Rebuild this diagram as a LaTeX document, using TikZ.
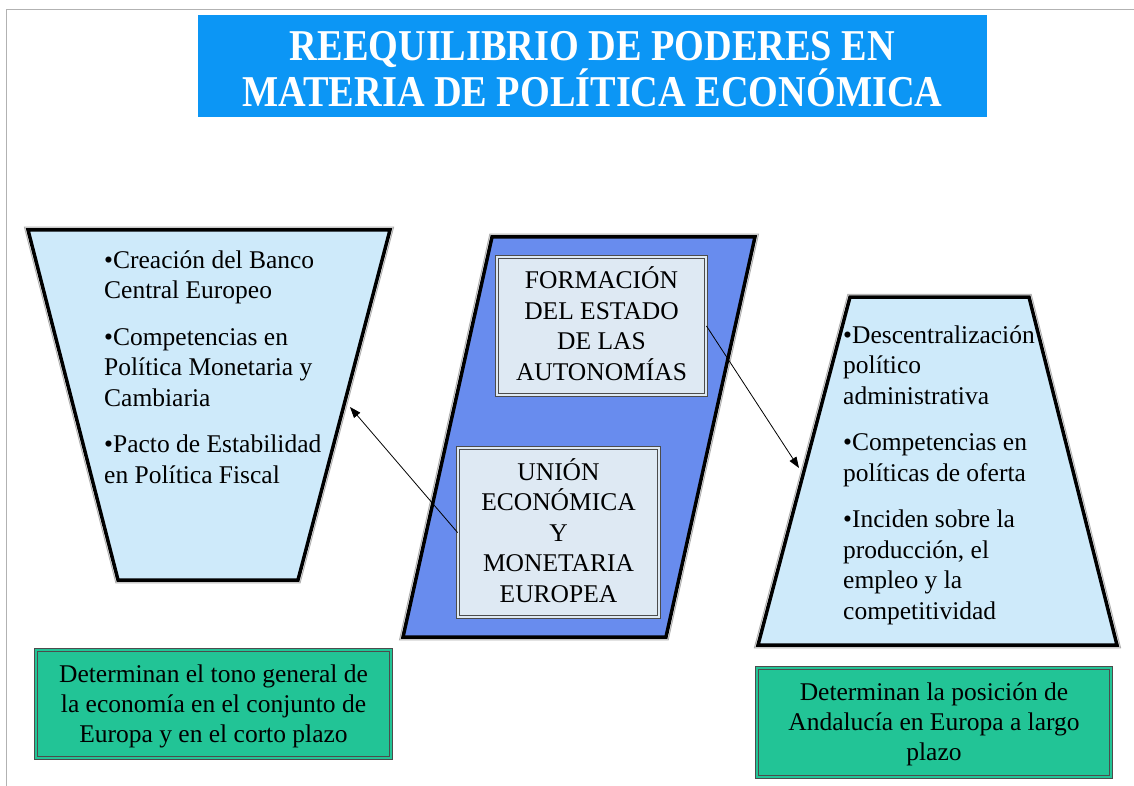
\documentclass[tikz,border=0pt]{standalone}
\usepackage{fontspec}
\usepackage{graphicx}
\setmainfont{Liberation Serif}
\usetikzlibrary{arrows.meta}

\definecolor{titleblue}{RGB}{12,150,245}
\definecolor{trapfill}{RGB}{206,234,250}
\definecolor{paralblue}{RGB}{104,140,238}
\definecolor{boxfill}{RGB}{222,233,243}
\definecolor{notegreen}{RGB}{34,196,150}

\newcommand{\tstrut}{\rule{0pt}{22pt}}
\newcommand{\bstrut}{\rule[-5pt]{0pt}{5pt}}
\newcommand{\narrow}[1]{\scalebox{0.87}[1]{#1}}

\begin{document}
\begin{tikzpicture}[
  x=1pt, y=-1pt,
  font=\fontsize{25.5}{30.5}\selectfont,
  >={Triangle[length=11pt,width=8pt]},
  halo/.style={draw=gray!65, double=white, line width=1pt, double distance=4.5pt},
  rim/.style={draw=black, line width=3.5pt, line join=miter},
  framebox/.style={draw=gray!60!black, line width=0.9pt, double distance=2.2pt,
                   inner sep=0pt, align=center},
  listtext/.style={inner sep=0pt, align=left, anchor=north west},
]
\useasboundingbox (0,0) rectangle (1134,786);

% --- Page frame ---
\draw[gray!60, line width=1pt] (6,786) -- (6,9.5) -- (1134,9.5);

% --- Title ---
\node[fill=titleblue, minimum width=789pt, minimum height=102pt, inner sep=0pt,
      text=white, align=center,
      font=\bfseries\fontsize{44}{44}\selectfont] (title) at (592.5,66)
  {\rule{0pt}{36pt}\narrow{REEQUILIBRIO DE PODERES EN}\\
   \narrow{MATERIA DE POLÍTICA ECONÓMICA}};

% --- Corners of the three large shapes ---
\coordinate (lt-nw) at (28,230);   \coordinate (lt-ne) at (390,230);
\coordinate (lt-se) at (298,580);  \coordinate (lt-sw) at (118,580);
\coordinate (pa-nw) at (492,237);  \coordinate (pa-ne) at (755,237);
\coordinate (pa-se) at (666,637);  \coordinate (pa-sw) at (403,637);
\coordinate (rt-nw) at (850,297);  \coordinate (rt-ne) at (1029,297);
\coordinate (rt-se) at (1117,645); \coordinate (rt-sw) at (758,645);

% --- Left trapezoid (European level) ---
\draw[halo] (lt-nw) -- (lt-ne) -- (lt-se) -- (lt-sw) -- cycle;
\filldraw[rim, fill=trapfill] (lt-nw) -- (lt-ne) -- (lt-se) -- (lt-sw) -- cycle;

% --- Central parallelogram ---
\draw[halo] (pa-nw) -- (pa-ne) -- (pa-se) -- (pa-sw) -- cycle;
\filldraw[rim, fill=paralblue] (pa-nw) -- (pa-ne) -- (pa-se) -- (pa-sw) -- cycle;

% --- Right trapezoid (regional level) ---
\draw[halo] (rt-nw) -- (rt-ne) -- (rt-se) -- (rt-sw) -- cycle;
\filldraw[rim, fill=trapfill] (rt-nw) -- (rt-ne) -- (rt-se) -- (rt-sw) -- cycle;

% --- Lists ---
\node[listtext] (ue-list) at (104,246)
  {\tstrut•Creación del Banco\\Central Europeo\\[16pt]
   •Competencias en\\Política Monetaria y\\Cambiaria\\[16pt]
   •Pacto de Estabilidad\\en Política Fiscal};
\node[listtext] (ca-list) at (843,321)
  {\tstrut•Descentralización\\político\\administrativa\\[16pt]
   •Competencias en\\políticas de oferta\\[16pt]
   •Inciden sobre la\\producción, el\\empleo y la\\competitividad};

% --- Inner boxes ---
\node[framebox, fill=boxfill, double=boxfill, minimum width=209pt, minimum height=138pt]
  (autonomias) at (601.5,326)
  {\tstrut FORMACIÓN\\DEL ESTADO\\DE LAS\\AUTONOMÍAS\bstrut};
\node[framebox, fill=boxfill, double=boxfill, minimum width=201pt, minimum height=169pt]
  (uem) at (558.5,532.5)
  {\tstrut UNIÓN\\ECONÓMICA\\Y\\MONETARIA\\EUROPEA\bstrut};

% --- Notes ---
\node[framebox, fill=notegreen, double=notegreen, minimum width=355pt, minimum height=108pt,
      font=\fontsize{25.5}{30}\selectfont]
  (nota-ue) at (213.5,704)
  {\tstrut Determinan el tono general de\\la economía en el conjunto de\\Europa y en el corto plazo};
\node[framebox, fill=notegreen, double=notegreen, minimum width=354pt, minimum height=109pt,
      font=\fontsize{25.5}{30}\selectfont]
  (nota-ca) at (934,722.5)
  {\tstrut Determinan la posición de\\Andalucía en Europa a largo\\plazo};

% --- Connectors ---
\coordinate (lt-hit) at (350,407);
\coordinate (rt-hit) at (799,468);
\draw[->, line width=0.8pt] (uem.west) -- (lt-hit);
\draw[->, line width=0.8pt] (autonomias.east) -- (rt-hit);

\end{tikzpicture}
\end{document}
